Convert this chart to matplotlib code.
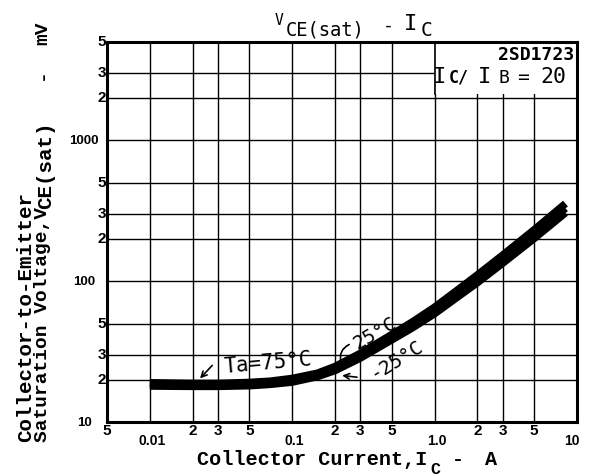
import matplotlib
matplotlib.use("Agg")
import matplotlib.pyplot as plt
from matplotlib.ticker import FixedLocator, NullLocator
from matplotlib.patches import Rectangle

# ---------------- data ----------------
current = [0.01, 0.02, 0.03, 0.05, 0.07, 0.1, 0.15, 0.2, 0.3, 0.5, 0.7, 1.0, 1.5, 2.0, 3.0, 5.0, 8.3]
v_75 = [19.0, 18.8, 18.8, 19.1, 19.5, 20.4, 22.2, 24.8, 30.7, 41.8, 51.5, 65.4, 89.0, 111.0, 153.0, 232.0, 356.0]
v_25 = [18.5, 18.3, 18.3, 18.6, 19.0, 19.8, 21.6, 24.0, 29.5, 40.0, 49.0, 62.0, 84.0, 104.0, 143.0, 216.0, 330.0]
v_m25 = [18.0, 17.9, 17.9, 18.1, 18.5, 19.2, 21.0, 23.2, 28.4, 38.3, 46.7, 58.8, 79.2, 97.7, 134.0, 201.0, 306.0]

x_minor_ticks = [0.005, 0.02, 0.03, 0.05, 0.2, 0.3, 0.5, 2, 3, 5]
x_minor_labels = ['5', '2', '3', '5', '2', '3', '5', '2', '3', '5']
x_major_ticks = [0.01, 0.1, 1.0, 10]
x_major_labels = ['0.01', '0.1', '1.0', '10']
y_minor_ticks = [20, 30, 50, 200, 300, 500, 2000, 3000, 5000]
y_minor_labels = ['2', '3', '5', '2', '3', '5', '2', '3', '5']
y_major_ticks = [10, 100, 1000]
y_major_labels = ['10', '100', '1000']

W, H = 590, 477


def fx(px):
    return px / W


def fy(py):
    return 1 - py / H


fig = plt.figure(figsize=(W / 100, H / 100), dpi=100)
ax = fig.add_axes([107 / W, 1 - 423 / H, 470 / W, 380 / H])
ax.set_xscale('log')
ax.set_yscale('log')
ax.set_xlim(0.005, 10)
ax.set_ylim(10, 5000)

ax.xaxis.set_major_locator(FixedLocator(x_major_ticks + x_minor_ticks))
ax.yaxis.set_major_locator(FixedLocator(y_major_ticks + y_minor_ticks))
ax.xaxis.set_minor_locator(NullLocator())
ax.yaxis.set_minor_locator(NullLocator())
ax.tick_params(length=0, labelbottom=False, labelleft=False)
ax.grid(True, color='black', lw=1.0)
ax.set_axisbelow(True)
for s in ax.spines.values():
    s.set_linewidth(2.2)
    s.set_color('black')

# white legend box top-right
ax.add_patch(Rectangle((1.0, 2150), 9.0, 2850, facecolor='white', edgecolor='none', zorder=1))
ax.plot([1.0, 1.0], [2150, 5000], color='black', lw=1.2, zorder=1.5)

# curves
for v in (v_75, v_25, v_m25):
    ax.plot(current, v, color='black', lw=5.4, solid_capstyle='butt', zorder=3)

# tick labels
tfont = dict(family='Liberation Sans', weight='bold', color='black')
for xv, lab in zip(x_minor_ticks, x_minor_labels):
    ax.annotate(lab, xy=(xv, 0), xycoords=('data', 'axes fraction'), xytext=(0, -8),
                textcoords='offset pixels', ha='center', va='center', fontsize=11, **tfont)
for xv, lab in zip(x_major_ticks, x_major_labels):
    dx = -5 if lab == '10' else 2
    ax.annotate(lab, xy=(xv, 0), xycoords=('data', 'axes fraction'), xytext=(dx, -18),
                textcoords='offset pixels', ha='center', va='center', fontsize=10, **tfont)
for yv, lab in zip(y_minor_ticks, y_minor_labels):
    ax.annotate(lab, xy=(0, yv), xycoords=('axes fraction', 'data'), xytext=(-1, 1),
                textcoords='offset pixels', ha='right', va='center', fontsize=11, **tfont)
for yv, lab in zip(y_major_ticks, y_major_labels):
    ax.annotate(lab, xy=(0, yv), xycoords=('axes fraction', 'data'), xytext=(-23, 0),
                textcoords='offset pixels', ha='center', va='center', fontsize=9.5, **tfont)

# title pieces
tt = dict(family='DejaVu Sans Mono', color='black')
fig.text(fx(275), fy(25), 'V', fontsize=10.5, ha='left', va='baseline', **tt)
fig.text(fx(286), fy(36), 'CE(sat)', fontsize=13.5, ha='left', va='baseline', **tt)
fig.text(fx(388), fy(31), '-', fontsize=13, ha='center', va='baseline', **tt)
fig.text(fx(411), fy(30), 'I', fontsize=16, ha='center', va='baseline', **tt)
fig.text(fx(427), fy(36), 'C', fontsize=14, ha='center', va='baseline', **tt)

# box text
bt = dict(family='DejaVu Sans Mono', weight='bold', color='black')
fig.text(fx(574), fy(60), '2SD1723', fontsize=13, ha='right', va='baseline', **bt)
fig.text(fx(440), fy(83), 'I', fontsize=16, ha='center', va='baseline', **tt)
fig.text(fx(459), fy(83), 'C/', fontsize=12, ha='center', va='baseline', **bt)
fig.text(fx(485), fy(83), 'I', fontsize=16, ha='center', va='baseline', **tt)
fig.text(fx(504), fy(83), 'B', fontsize=13, ha='center', va='baseline', **tt)
fig.text(fx(523), fy(83), '=', fontsize=14, ha='center', va='baseline', **tt)
fig.text(fx(553), fy(83), '20', fontsize=15.5, ha='center', va='baseline', **tt)

# x label pieces
lf = dict(family='Liberation Mono', weight='bold', color='black')
fig.text(fx(197), fy(465), 'Collector Current,I', fontsize=14.5, ha='left', va='baseline', **lf)
fig.text(fx(435), fy(474), 'C', fontsize=12, ha='center', va='baseline', **lf)
fig.text(fx(458), fy(465), '-', fontsize=14.5, ha='center', va='baseline', **lf)
fig.text(fx(491), fy(465), 'A', fontsize=14.5, ha='center', va='baseline', **lf)

# y label pieces (rotated)
rk = dict(rotation=90, rotation_mode='anchor', ha='left', va='baseline')
fig.text(fx(31), fy(442), 'Collector-to-Emitter', fontsize=15, **rk, **lf)
fig.text(fx(47), fy(442), 'Saturation Voltage,V', fontsize=14, **rk, **lf)
fig.text(fx(51), fy(209), 'CE(sat)', fontsize=15, **rk, **lf)
fig.text(fx(47), fy(80), '-', fontsize=14, **rk, **lf)
fig.text(fx(47), fy(45), 'mV', fontsize=14, **rk, **lf)

# curve annotations
af = dict(family='DejaVu Sans Mono', color='black')
ax.text(0.0676, 26.4, 'Ta=75°C', fontsize=15, rotation=5, ha='center', va='center', zorder=4, **af)
ax.annotate('', xy=(0.0225, 20.4), xytext=(0.0274, 25.2),
            arrowprops=dict(arrowstyle='->', lw=1.2, color='black', shrinkA=0, shrinkB=0), zorder=4)
ax.text(0.38, 43.5, '25°C', fontsize=14, rotation=30, ha='center', va='center', zorder=4, **af)
ax.annotate('', xy=(0.22, 26.5), xytext=(0.251, 35.5),
            arrowprops=dict(arrowstyle='-', lw=1.2, color='black', connectionstyle='arc3,rad=0.4',
                            shrinkA=0, shrinkB=0), zorder=4)
ax.text(0.545, 28.2, '-25°C', fontsize=14, rotation=32, ha='center', va='center', zorder=4, **af)
ax.annotate('', xy=(0.224, 21.4), xytext=(0.285, 20.8),
            arrowprops=dict(arrowstyle='->', lw=1.2, color='black', shrinkA=0, shrinkB=0), zorder=4)

fig.savefig('out.png', dpi=100, facecolor='white')
